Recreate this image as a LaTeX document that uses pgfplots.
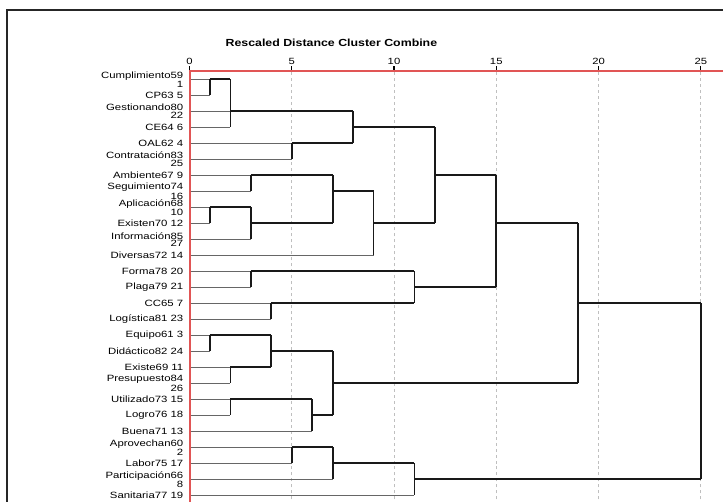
\documentclass[border=0pt]{standalone}
\usepackage{fontspec}
\usepackage{pgfplots}
\pgfplotsset{compat=1.18}
\setmainfont{Liberation Sans}
\newfontfamily\sfs[FakeStretch=1.25]{Liberation Sans}
\newfontfamily\sft[FakeStretch=1.2]{Liberation Sans}
\definecolor{axred}{RGB}{225,85,85}
\begin{document}
\begin{tikzpicture}
\useasboundingbox (0,0) rectangle (723bp,-502bp);
\fill[white] (0,0) rectangle (723bp,-502bp);
\draw[line width=1.8bp, black!85] (7bp,-560bp) -- (7bp,-10bp) -- (780bp,-10bp);
\node[anchor=base, font={\sft\bfseries\fontsize{10.3bp}{12bp}\selectfont}] at (331.4bp,-46.7bp) {Rescaled Distance Cluster Combine};
\begin{axis}[
  name=ax, clip=false,
  at={(189.5bp,-71bp)}, anchor=north west,
  x=20.45bp, y=16bp,
  xmin=0, xmax=27, ymin=-28, ymax=-0.48,
  axis x line*=top, axis y line*=left,
  axis line style={axred, line width=1.5bp, -},
  xtick={0,5,...,25}, tick align=outside, major tick length=4.5bp,
  xtick style={black, line width=1.1bp},
  xmajorgrids, grid style={dashed, black!25, line width=0.8bp},
  /pgf/number format/assume math mode=true,
  xticklabel style={font={\sfs\fontsize{9bp}{10bp}\selectfont}, inner sep=2bp},
  ytick={-1,-2,...,-27},
  ytick style={draw=none},
  yticklabels={{Cumplimiento59\\1},{CP63 5},{Gestionando80\\22},{CE64 6},{OAL62 4},{Contratación83\\25},{Ambiente67 9},{Seguimiento74\\16},{Aplicación68\\10},{Existen70 12},{Información85\\27},{Diversas72 14},{Forma78 20},{Plaga79 21},{CC65 7},{Logística81 23},{Equipo61 3},{Didáctico82 24},{Existe69 11},{Presupuesto84\\26},{Utilizado73 15},{Logro76 18},{Buena71 13},{Aprovechan60\\2},{Labor75 17},{Participación66\\8},{Sanitaria77 19}},
  yticklabel style={font={\sfs\fontsize{9.1bp}{7.3bp}\selectfont}, align=right, inner sep=0bp, xshift=-1.5bp},
]
% leaf lines
\addplot[black!60, line width=1.2bp, unbounded coords=jump] table {
x y
0 -1
1 -1
nan nan
0 -2
1 -2
nan nan
0 -3
2 -3
nan nan
0 -4
2 -4
nan nan
0 -5
5 -5
nan nan
0 -6
5 -6
nan nan
0 -7
3 -7
nan nan
0 -8
3 -8
nan nan
0 -9
1 -9
nan nan
0 -10
1 -10
nan nan
0 -11
3 -11
nan nan
0 -12
9 -12
nan nan
0 -13
3 -13
nan nan
0 -14
3 -14
nan nan
0 -15
4 -15
nan nan
0 -16
4 -16
nan nan
0 -17
1 -17
nan nan
0 -18
1 -18
nan nan
0 -19
2 -19
nan nan
0 -20
2 -20
nan nan
0 -21
2 -21
nan nan
0 -22
2 -22
nan nan
0 -23
6 -23
nan nan
0 -24
5 -24
nan nan
0 -25
5 -25
nan nan
0 -26
7 -26
nan nan
0 -27
11 -27
};
% cluster lines
\addplot[black!90, line width=1.7bp, unbounded coords=jump] table {
x y
1 -1
2 -1
nan nan
2 -3
8 -3
nan nan
5 -5
8 -5
nan nan
8 -4
12 -4
nan nan
3 -7
7 -7
nan nan
1 -9
3 -9
nan nan
3 -10
7 -10
nan nan
7 -8
9 -8
nan nan
9 -10
12 -10
nan nan
12 -7
15 -7
nan nan
3 -13
11 -13
nan nan
4 -15
11 -15
nan nan
11 -14
15 -14
nan nan
15 -10
19 -10
nan nan
1 -17
4 -17
nan nan
2 -19
4 -19
nan nan
4 -18
7 -18
nan nan
2 -21
6 -21
nan nan
6 -22
7 -22
nan nan
7 -20
19 -20
nan nan
19 -15
25 -15
nan nan
5 -24
7 -24
nan nan
7 -25
11 -25
nan nan
11 -26
25 -26
nan nan
1 -1
1 -2
nan nan
2 -1
2 -4
nan nan
5 -5
5 -6
nan nan
8 -3
8 -5
nan nan
3 -7
3 -8
nan nan
1 -9
1 -10
nan nan
3 -9
3 -11
nan nan
7 -7
7 -10
nan nan
9 -8
9 -12
nan nan
12 -4
12 -10
nan nan
3 -13
3 -14
nan nan
4 -15
4 -16
nan nan
11 -13
11 -15
nan nan
15 -7
15 -14
nan nan
19 -10
19 -20
nan nan
25 -15
25 -26
nan nan
1 -17
1 -18
nan nan
2 -19
2 -20
nan nan
4 -17
4 -19
nan nan
2 -21
2 -22
nan nan
6 -21
6 -23
nan nan
7 -18
7 -22
nan nan
5 -24
5 -25
nan nan
7 -24
7 -26
nan nan
11 -25
11 -27
};
\end{axis}
\draw[axred, line width=2bp] (189.5bp,-70bp) -- (189.5bp,-520bp);
\end{tikzpicture}
\end{document}
